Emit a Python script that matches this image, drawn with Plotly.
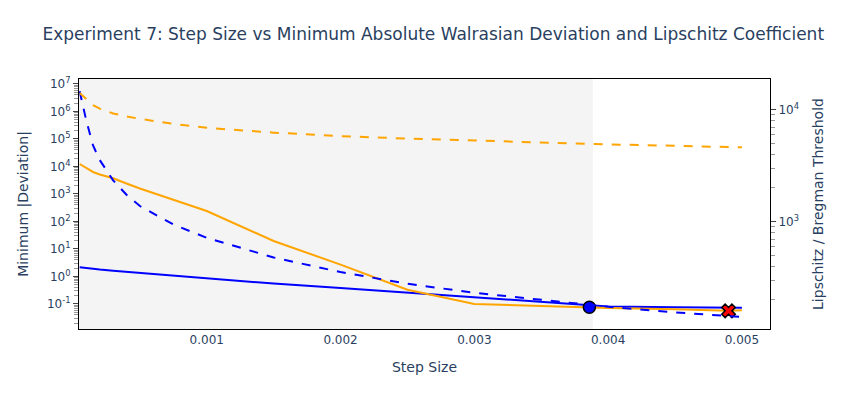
import plotly.graph_objects as go

# Step sizes
step_size = [0.00005, 0.0001, 0.00015, 0.0002, 0.0003, 0.0004, 0.0005, 0.00075, 0.001,
             0.0015, 0.002, 0.0025, 0.003, 0.0035, 0.00386, 0.004, 0.0045, 0.0049, 0.005]

# Minimum |deviation| (left axis)
dev_blue = [2.15, 2.00, 1.86, 1.78, 1.62, 1.48, 1.35, 1.05, 0.822,
            0.550, 0.380, 0.257, 0.174, 0.117, 0.0871, 0.0813, 0.0759, 0.0733, 0.0724]
dev_orange = [12300, 8500, 6300, 5130, 3720, 2400, 1580, 617, 240,
              19.5, 2.69, 0.331, 0.100, 0.0851, 0.0741, 0.0708, 0.0646, 0.0562, 0.0589]

# Lipschitz / Bregman threshold (right axis)
thr_blue = [14600, 7940, 4790, 3550, 2340, 1740, 1380, 944, 718,
            479, 355, 279, 232, 200, 180, 174, 155, 145, 141]
thr_orange = [14100, 12300, 10960, 10230, 9250, 8710, 8280, 7480, 6890,
              6240, 5810, 5520, 5300, 5080, 4920, 4900, 4760, 4650, 4610]

# Highlighted points
best_blue_x = [0.00386]
best_blue_y = [0.076]
best_orange_x = [0.0049]
best_orange_y = [0.0562]

# Tick labels
left_exponents = [-1, 0, 1, 2, 3, 4, 5, 6, 7]
right_exponents = [3, 4]
left_tickvals = [10.0 ** e for e in left_exponents]
left_ticktext = ["10<sup>%d</sup>" % e for e in left_exponents]
right_tickvals = [10.0 ** e for e in right_exponents]
right_ticktext = ["10<sup>%d</sup>" % e for e in right_exponents]

stable_limit = 0.003886

fig = go.Figure()
fig.add_trace(go.Scatter(x=step_size, y=dev_blue, mode="lines",
                         line=dict(color="blue", width=2), name="Deviation (blue)"))
fig.add_trace(go.Scatter(x=step_size, y=dev_orange, mode="lines",
                         line=dict(color="orange", width=2), name="Deviation (orange)"))
fig.add_trace(go.Scatter(x=step_size, y=thr_blue, mode="lines", yaxis="y2",
                         line=dict(color="blue", width=2, dash="dash"), name="Threshold (blue)"))
fig.add_trace(go.Scatter(x=step_size, y=thr_orange, mode="lines", yaxis="y2",
                         line=dict(color="orange", width=2, dash="dash"), name="Threshold (orange)"))
fig.add_trace(go.Scatter(x=best_blue_x, y=best_blue_y, mode="markers",
                         marker=dict(color="blue", size=12, symbol="circle",
                                     line=dict(color="black", width=1.5)), name="best blue"))
fig.add_trace(go.Scatter(x=best_orange_x, y=best_orange_y, mode="markers",
                         marker=dict(color="red", size=12, symbol="x",
                                     line=dict(color="black", width=1.5)), name="best orange"))

fig.add_shape(type="rect", xref="x", yref="paper", x0=0.000045, x1=stable_limit, y0=0, y1=1,
              fillcolor="#f4f4f4", line=dict(width=0), layer="below")

axis_common = dict(showline=True, linecolor="black", linewidth=1, mirror=True,
                   showgrid=False, zeroline=False)

fig.update_layout(
    template="plotly_white",
    width=850, height=420,
    margin=dict(l=79, r=80, t=79, b=91),
    font=dict(family="DejaVu Sans", color="#2a3f5f", size=12),
    title=dict(text="Experiment 7: Step Size vs Minimum Absolute Walrasian Deviation and Lipschitz Coefficient",
               x=0.05, xanchor="left", font=dict(size=17)),
    showlegend=False,
    plot_bgcolor="white",
    xaxis=dict(range=[0.000045, 0.00521], title=dict(text="Step Size"), ticks="", **axis_common),
    yaxis=dict(type="log", range=[-1.91, 7.18], tickmode="array",
               tickvals=left_tickvals, ticktext=left_ticktext, tickfont=dict(size=12),
               title=dict(text="Minimum |Deviation|"),
               ticks="outside", ticklen=5, tickcolor="#444",
               minor=dict(ticks="outside", ticklen=4, tickcolor="#999", dtick="D1", showgrid=False),
               **axis_common),
    yaxis2=dict(type="log", range=[2.042, 4.274], tickmode="array",
                tickvals=right_tickvals, ticktext=right_ticktext, tickfont=dict(size=12),
                overlaying="y", side="right",
                title=dict(text="Lipschitz / Bregman Threshold"),
                ticks="outside", ticklen=5, tickcolor="#444",
                minor=dict(ticks="outside", ticklen=4, tickcolor="#999", dtick="D1", showgrid=False),
                showline=True, linecolor="black", showgrid=False, zeroline=False),
)

fig.write_html("out.html")
